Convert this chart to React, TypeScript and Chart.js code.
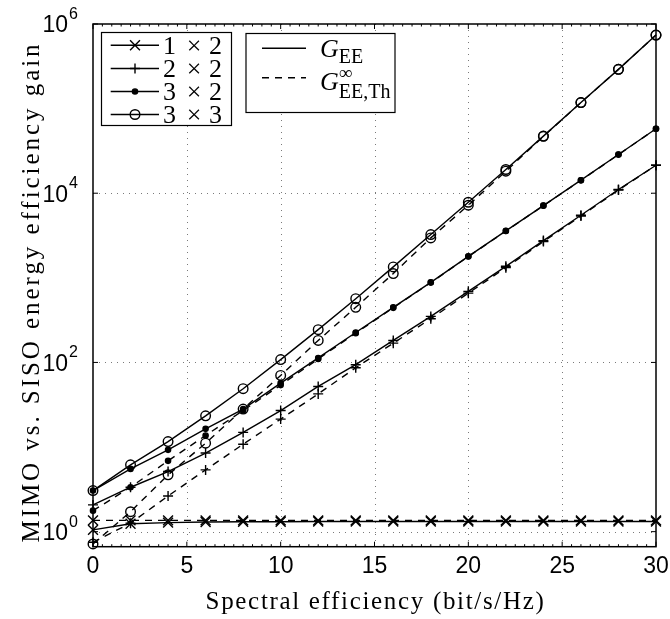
import React, { useEffect, useRef } from "react";
import { Chart, registerables } from "chart.js";

Chart.register(...registerables);

// ---------------- data ----------------
const spectralEfficiency = [0, 2, 4, 6, 8, 10, 12, 14, 16, 18, 20, 22, 24, 26, 28, 30];

const gain1x2 = [1.05, 1.24, 1.28, 1.3, 1.31, 1.31, 1.32, 1.32, 1.32, 1.32, 1.32, 1.32, 1.32, 1.32, 1.32, 1.32];
const gain1x2Th = [1.36, 1.36, 1.36, 1.36, 1.36, 1.36, 1.36, 1.36, 1.36, 1.36, 1.36, 1.36, 1.36, 1.36, 1.36, 1.36];

const gain2x2 = [2.07, 3.35, 5.13, 8.5, 14.9, 27.0, 52, 94, 182, 350, 692, 1368, 2755, 5490, 11060, 21400];
const gain2x2Th = [0.75, 1.26, 2.64, 5.37, 10.8, 21.4, 42.5, 86.5, 169, 329, 659, 1320, 2680, 5370, 10900, 21400];

const gain3x2 = [3.06, 5.52, 9.27, 16.4, 28.1, 57.0, 113, 226, 448, 885, 1796, 3590, 7150, 14250, 28700, 57800];
const gain3x2Th = [1.77, 3.35, 6.87, 13.7, 27.0, 54, 110, 222, 442, 878, 1785, 3570, 7130, 14200, 28600, 57700];

const gain3x3 = [3.06, 6.16, 11.6, 23.4, 48.9, 108, 244, 567, 1346, 3245, 7820, 19070, 47300, 118000, 291000, 741000];
const gain3x3Th = [0.715, 1.72, 4.69, 11.1, 28.1, 70.2, 182, 448, 1122, 2966, 7211, 18200, 47000, 118000, 291000, 741000];

const seriesLabels = ["1 × 2", "2 × 2", "3 × 2", "3 × 3"];
const xTickValues = [0, 5, 10, 15, 20, 25, 30];
const yTickExponents = [0, 2, 4, 6];
const xTitle = "Spectral efficiency (bit/s/Hz)";
const yTitle = "MIMO vs. SISO energy efficiency gain";

const solidSeries = [gain1x2, gain2x2, gain3x2, gain3x3];
const dashedSeries = [gain1x2Th, gain2x2Th, gain3x2Th, gain3x3Th];

type Marker = { style: string; radius: number; fill: boolean };
const markers: Marker[] = [
  { style: "crossRot", radius: 7, fill: false },
  { style: "cross", radius: 5, fill: false },
  { style: "circle", radius: 2.6, fill: true },
  { style: "circle", radius: 4.8, fill: false },
];

const DASH = [7, 6];
const LW = 1.4;
const SERIF = "'Liberation Serif'";
const SANS = "'Liberation Sans'";

function drawMarker(ctx: CanvasRenderingContext2D, m: Marker, cx: number, cy: number) {
  ctx.save();
  ctx.setLineDash([]);
  ctx.strokeStyle = "#000";
  ctx.fillStyle = "#000";
  ctx.lineWidth = LW;
  ctx.beginPath();
  if (m.style === "crossRot") {
    const d = m.radius * Math.SQRT1_2;
    ctx.moveTo(cx - d, cy - d);
    ctx.lineTo(cx + d, cy + d);
    ctx.moveTo(cx - d, cy + d);
    ctx.lineTo(cx + d, cy - d);
    ctx.stroke();
  } else if (m.style === "cross") {
    ctx.moveTo(cx - m.radius, cy);
    ctx.lineTo(cx + m.radius, cy);
    ctx.moveTo(cx, cy - m.radius);
    ctx.lineTo(cx, cy + m.radius);
    ctx.stroke();
  } else {
    ctx.arc(cx, cy, m.radius, 0, Math.PI * 2);
    if (m.fill) ctx.fill();
    ctx.stroke();
  }
  ctx.restore();
}

function fitText(ctx: CanvasRenderingContext2D, text: string, maxSize: number, target: number) {
  (ctx as any).letterSpacing = "0px";
  ctx.font = `${maxSize}px ${SERIF}`;
  let w = ctx.measureText(text).width;
  let size = maxSize;
  if (w > target) {
    size = (maxSize * target) / w;
    ctx.font = `${size}px ${SERIF}`;
    w = ctx.measureText(text).width;
  }
  const ls = (target - w) / Math.max(1, text.length - 1);
  (ctx as any).letterSpacing = `${Math.max(0, ls).toFixed(2)}px`;
}

const decorPlugin = {
  id: "decor",
  beforeDatasetsDraw(chart: any) {
    const { ctx, chartArea: a, scales } = chart;
    const x = scales.x;
    const y = scales.y;
    ctx.save();
    ctx.strokeStyle = "#7a7a7a";
    ctx.lineWidth = 1;
    ctx.setLineDash([1, 5]);
    ctx.beginPath();
    for (const v of xTickValues.slice(1, -1)) {
      const px = Math.round(x.getPixelForValue(v)) + 0.5;
      ctx.moveTo(px, a.top);
      ctx.lineTo(px, a.bottom);
    }
    for (const e of yTickExponents.slice(0, -1)) {
      const py = Math.round(y.getPixelForValue(Math.pow(10, e))) + 0.5;
      ctx.moveTo(a.left, py);
      ctx.lineTo(a.right, py);
    }
    ctx.stroke();
    ctx.restore();
  },
  afterDatasetsDraw(chart: any) {
    const { ctx, chartArea: a, scales } = chart;
    const x = scales.x;
    const y = scales.y;
    ctx.save();
    ctx.setLineDash([]);
    ctx.strokeStyle = "#000";
    ctx.lineWidth = 1.5;
    ctx.strokeRect(a.left, a.top, a.right - a.left, a.bottom - a.top);

    // ticks
    ctx.lineWidth = 1;
    ctx.beginPath();
    for (const v of xTickValues) {
      const px = x.getPixelForValue(v);
      ctx.moveTo(px, a.bottom);
      ctx.lineTo(px, a.bottom - 5);
      ctx.moveTo(px, a.top);
      ctx.lineTo(px, a.top + 5);
    }
    for (let v = 0.5; v < 30; v += 0.5) {
      if (v % 5 === 0) continue;
      const px = x.getPixelForValue(v);
      ctx.moveTo(px, a.bottom);
      ctx.lineTo(px, a.bottom - 2.5);
      ctx.moveTo(px, a.top);
      ctx.lineTo(px, a.top + 2.5);
    }
    for (const e of yTickExponents) {
      const py = y.getPixelForValue(Math.pow(10, e));
      ctx.moveTo(a.left, py);
      ctx.lineTo(a.left + 5, py);
      ctx.moveTo(a.right, py);
      ctx.lineTo(a.right - 5, py);
    }
    ctx.stroke();

    // x tick labels
    ctx.fillStyle = "#000";
    ctx.font = `23px ${SANS}`;
    ctx.textAlign = "center";
    ctx.textBaseline = "middle";
    for (const v of xTickValues) {
      ctx.fillText(String(v), x.getPixelForValue(v), 567);
    }
    // y tick labels
    for (const e of yTickExponents) {
      const py = y.getPixelForValue(Math.pow(10, e));
      ctx.font = `23px ${SANS}`;
      ctx.textAlign = "right";
      ctx.textBaseline = "middle";
      ctx.fillText("10", 68, py + 2);
      ctx.font = `16px ${SANS}`;
      ctx.textAlign = "left";
      ctx.textBaseline = "alphabetic";
      ctx.fillText(String(e), 69, py - 5);
    }

    // axis titles
    ctx.textAlign = "center";
    ctx.textBaseline = "alphabetic";
    fitText(ctx, xTitle, 25, 338);
    ctx.fillText(xTitle, 375.5, 609);
    ctx.save();
    ctx.translate(39, 292);
    ctx.rotate(-Math.PI / 2);
    fitText(ctx, yTitle, 25, 498);
    ctx.fillText(yTitle, 0, 0);
    ctx.restore();
    (ctx as any).letterSpacing = "0px";

    // legend 1
    ctx.fillStyle = "#fff";
    ctx.fillRect(101.5, 32.5, 130, 93);
    ctx.strokeStyle = "#000";
    ctx.lineWidth = 1.2;
    ctx.strokeRect(101.5, 32.5, 130, 93);
    const rows = [45.3, 68.5, 91.5, 114.5];
    rows.forEach((ry, i) => {
      ctx.beginPath();
      ctx.lineWidth = LW;
      ctx.setLineDash([]);
      ctx.moveTo(110.7, ry);
      ctx.lineTo(159, ry);
      ctx.stroke();
      drawMarker(ctx, markers[i], 135, ry);
      const parts = seriesLabels[i].split(" ");
      ctx.fillStyle = "#000";
      ctx.font = `26px ${SERIF}`;
      ctx.textBaseline = "alphabetic";
      ctx.textAlign = "left";
      ctx.fillText(parts[0], 163, ry + 8.5);
      ctx.textAlign = "center";
      ctx.fillText(parts[1], 194, ry + 8.5);
      ctx.textAlign = "left";
      ctx.fillText(parts[2], 209, ry + 8.5);
    });

    // legend 2
    ctx.fillStyle = "#fff";
    ctx.fillRect(246, 33.5, 149, 79);
    ctx.strokeStyle = "#000";
    ctx.lineWidth = 1.2;
    ctx.strokeRect(246, 33.5, 149, 79);
    ctx.lineWidth = LW;
    ctx.beginPath();
    ctx.moveTo(262, 48.3);
    ctx.lineTo(306, 48.3);
    ctx.stroke();
    ctx.setLineDash(DASH);
    ctx.beginPath();
    ctx.moveTo(262, 77.7);
    ctx.lineTo(306, 77.7);
    ctx.stroke();
    ctx.setLineDash([]);
    ctx.fillStyle = "#000";
    ctx.textAlign = "left";
    ctx.font = `italic 26px ${SERIF}`;
    const gw = ctx.measureText("G").width;
    ctx.fillText("G", 320, 57);
    ctx.fillText("G", 320, 89.5);
    ctx.font = `20px ${SERIF}`;
    ctx.fillText("EE", 320 + gw, 63);
    ctx.fillText("EE,Th", 320 + gw, 98);
    ctx.font = `19px ${SERIF}`;
    ctx.fillText("∞", 320 + gw, 79);
    ctx.restore();
  },
};

export default function App() {
  const ref = useRef<HTMLCanvasElement>(null);
  useEffect(() => {
    document.body.style.margin = "0";
    const datasets: any[] = [];
    solidSeries.forEach((s, i) => {
      const m = markers[i];
      const common = {
        borderColor: "#000",
        borderWidth: LW,
        pointStyle: m.style,
        pointRadius: m.radius,
        pointHoverRadius: m.radius,
        pointBorderColor: "#000",
        pointBorderWidth: LW,
        pointBackgroundColor: m.fill ? "#000" : "rgba(0,0,0,0)",
        tension: 0,
        fill: false,
        clip: false,
      };
      datasets.push({
        ...common,
        label: `${seriesLabels[i]} G_EE`,
        data: spectralEfficiency.map((xv, k) => ({ x: xv, y: s[k] })),
      });
      datasets.push({
        ...common,
        label: `${seriesLabels[i]} G_EE,Th`,
        borderDash: DASH,
        data: spectralEfficiency.map((xv, k) => ({ x: xv, y: dashedSeries[i][k] })),
      });
    });
    const chart = new Chart(ref.current as HTMLCanvasElement, {
      type: "line",
      data: { datasets },
      options: {
        animation: false,
        responsive: false,
        events: [],
        layout: { padding: { left: 0, right: 14, top: 24, bottom: 0 } },
        plugins: { legend: { display: false }, tooltip: { enabled: false } },
        scales: {
          x: {
            type: "linear",
            min: 0,
            max: 30,
            ticks: { display: false },
            grid: { display: false },
            border: { display: false },
            afterFit: (s: any) => {
              s.height = 72.3;
            },
          },
          y: {
            type: "logarithmic",
            min: 0.664,
            max: 1e6,
            ticks: { display: false },
            grid: { display: false },
            border: { display: false },
            afterFit: (s: any) => {
              s.width = 93;
            },
          },
        },
      } as any,
      plugins: [decorPlugin as any],
    });
    return () => chart.destroy();
  }, []);
  return (
    <div style={{ width: 670, height: 619 }}>
      <canvas ref={ref} width={670} height={619} style={{ display: "block" }} />
    </div>
  );
}
